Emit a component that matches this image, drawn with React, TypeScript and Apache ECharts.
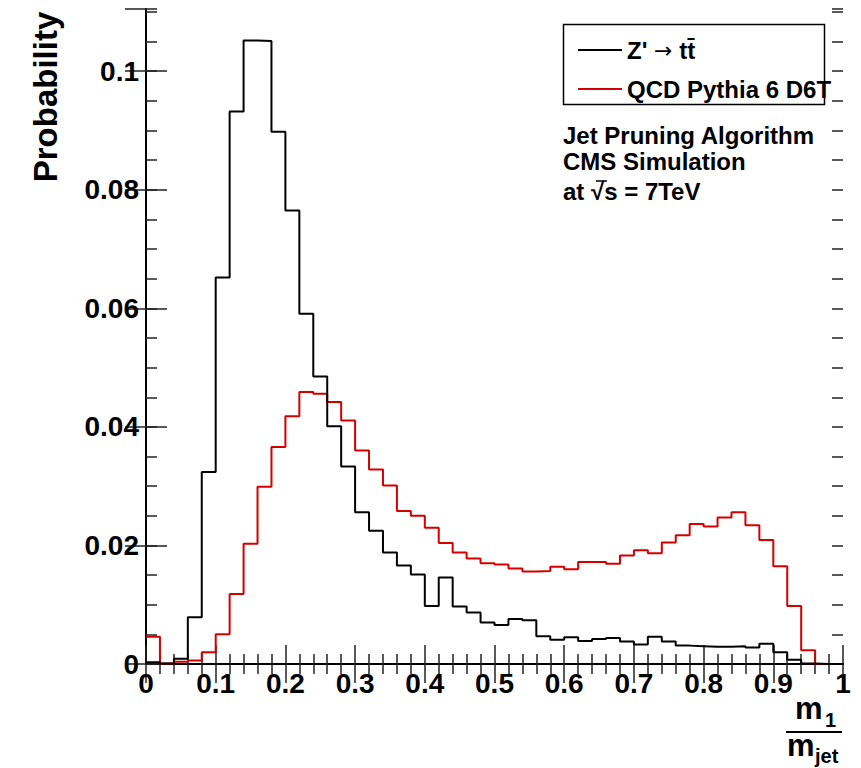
import React, { useEffect, useRef } from "react";
import * as echarts from "echarts";

// Bin edges of the histogram (0.02 wide bins)
const binEdges = [
  0, 0.02, 0.04, 0.06, 0.08, 0.1, 0.12, 0.14, 0.16, 0.18,
  0.2, 0.22, 0.24, 0.26, 0.28, 0.3, 0.32, 0.34, 0.36, 0.38,
  0.4, 0.42, 0.44, 0.46, 0.48, 0.5, 0.52, 0.54, 0.56, 0.58,
  0.6, 0.62, 0.64, 0.66, 0.68, 0.7, 0.72, 0.74, 0.76, 0.78,
  0.8, 0.82, 0.84, 0.86, 0.88, 0.9, 0.92, 0.94, 0.96, 0.98, 1.0,
];

// Z' -> ttbar (black)
const zprimeValues = [
  0.0003, 0.0001, 0.0009, 0.0079, 0.0324, 0.0652, 0.0932, 0.1052, 0.1051, 0.0898,
  0.0765, 0.0591, 0.0485, 0.0401, 0.0333, 0.0256, 0.0225, 0.0188, 0.0166, 0.0151,
  0.0098, 0.0146, 0.0097, 0.0087, 0.0070, 0.0066, 0.0076, 0.0074, 0.0047, 0.0041,
  0.0045, 0.0039, 0.0042, 0.0044, 0.0038, 0.0033, 0.0046, 0.0038, 0.0031, 0.0030,
  0.0029, 0.0029, 0.0030, 0.0028, 0.0034, 0.0020, 0.0007, 0.0001, 0, 0,
];

// QCD Pythia 6 D6T (red)
const qcdValues = [
  0.0046, 0.0001, 0.0004, 0.0006, 0.0020, 0.0050, 0.0118, 0.0203, 0.0299, 0.0366,
  0.0418, 0.0459, 0.0456, 0.0442, 0.0411, 0.0360, 0.0328, 0.0301, 0.0258, 0.0250,
  0.0230, 0.0204, 0.0188, 0.0178, 0.0170, 0.0168, 0.0161, 0.0156, 0.0157, 0.0164,
  0.0160, 0.0172, 0.0172, 0.0169, 0.0183, 0.0192, 0.0187, 0.0205, 0.0217, 0.0236,
  0.0232, 0.0247, 0.0256, 0.0234, 0.0209, 0.0165, 0.0098, 0.0023, 0, 0,
];

const seriesNames = ["Z' \u2192 tt\u0304", "QCD Pythia 6 D6T"];
const infoLines = ["Jet Pruning Algorithm", "CMS Simulation", "at \u221As = 7TeV"];

const FONT = "'Liberation Sans', Arial, Helvetica, sans-serif";

function toSteps(values: number[]) {
  const pts: number[][] = values.map((v, i) => [binEdges[i], v]);
  pts.push([binEdges[values.length], values[values.length - 1]]);
  return pts;
}

export default function App() {
  const ref = useRef<HTMLDivElement>(null);

  useEffect(() => {
    if (!ref.current) return;
    const chart = echarts.init(ref.current, undefined, { renderer: "svg" });

    const axisLine = { show: true, lineStyle: { color: "#000", width: 2 } };
    const labelStyle = { fontFamily: FONT, fontWeight: "bold" as const, fontSize: 28, color: "#000" };

    const xBase = (pos: "bottom" | "top", labels: boolean) => ({
      type: "value",
      position: pos,
      min: 0,
      max: 1,
      interval: 0.1,
      axisLine,
      axisTick: { show: true, inside: true, length: 19, lineStyle: { color: "#222", width: 1.5 } },
      minorTick: { show: true, splitNumber: 5, length: 10, lineStyle: { color: "#222", width: 1.5 } },
      splitLine: { show: false },
      minorSplitLine: { show: false },
      axisLabel: labels
        ? {
            show: true,
            margin: 5,
            ...labelStyle,
            formatter: (v: number) => String(+v.toFixed(2)),
          }
        : { show: false },
    });

    const yMajor = (pos: "left" | "right", labels: boolean) => ({
      type: "value",
      position: pos,
      min: 0,
      max: 0.1105,
      interval: 0.02,
      axisLine,
      axisTick: { show: true, inside: true, length: 21, lineStyle: { color: "#222", width: 1.5 } },
      splitLine: { show: false },
      axisLabel: labels
        ? {
            show: true,
            margin: 7,
            showMaxLabel: false,
            ...labelStyle,
            formatter: (v: number) => {
              const k = v / 0.02;
              if (Math.abs(k - Math.round(k)) > 1e-6) return "";
              return String(+v.toFixed(3));
            },
          }
        : { show: false },
    });

    const yMinor = (pos: "left" | "right") => ({
      type: "value",
      position: pos,
      min: 0,
      max: 0.1105,
      interval: 0.005,
      axisLine: { show: false },
      axisTick: { show: true, inside: true, length: 11, lineStyle: { color: "#222", width: 1.5 } },
      splitLine: { show: false },
      axisLabel: { show: false },
    });

    const option: any = {
      animation: false,
      backgroundColor: "#fff",
      grid: { left: 146, top: 9, width: 697, height: 655, containLabel: false },
      xAxis: [xBase("bottom", true), xBase("top", false)],
      yAxis: [yMajor("left", true), yMajor("right", false), yMinor("left"), yMinor("right")],
      legend: {
        left: 573,
        top: 33,
        orient: "vertical",
        itemWidth: 44,
        itemHeight: 2,
        itemGap: 15,
        icon: "rect",
        selectedMode: false,
        formatter: (name: string) =>
          name.indexOf("\u2192") >= 0 ? name.replace("\u2192", "{arr|\u2192}") : name,
        textStyle: {
          fontFamily: FONT,
          fontWeight: "bold",
          fontSize: 24,
          color: "#000",
          rich: {
            arr: { fontFamily: "'DejaVu Sans', sans-serif", fontSize: 22, fontWeight: "normal", color: "#000" },
          },
        },
        data: seriesNames,
      },
      series: [
        {
          name: seriesNames[0],
          type: "line",
          step: "end",
          xAxisIndex: 0,
          yAxisIndex: 0,
          showSymbol: false,
          color: "#000",
          lineStyle: { color: "#000", width: 2 },
          data: toSteps(zprimeValues),
          z: 3,
        },
        {
          name: seriesNames[1],
          type: "line",
          step: "end",
          xAxisIndex: 0,
          yAxisIndex: 0,
          showSymbol: false,
          color: "#d40000",
          lineStyle: { color: "#d40000", width: 2 },
          data: toSteps(qcdValues),
          z: 2,
        },
      ],
      graphic: [
        {
          type: "rect",
          shape: { x: 563.5, y: 24.5, width: 261, height: 80 },
          style: { fill: "none", stroke: "#000", lineWidth: 1.5 },
          z: 10,
        },
        ...infoLines.map((t, i) => ({
          type: "text",
          x: 563,
          y: [135, 161, 191][i],
          style: {
            text: t,
            fontFamily: FONT,
            fontWeight: "bold",
            fontSize: 24,
            fill: "#000",
            verticalAlign: "middle",
            align: "left",
          },
          z: 10,
        })),
        {
          type: "line",
          shape: { x1: 596, y1: 181, x2: 607, y2: 181 },
          style: { stroke: "#000", lineWidth: 1.5 },
          z: 10,
        },
        {
          type: "text",
          x: 45,
          y: 97,
          rotation: Math.PI / 2,
          style: {
            text: "Probability",
            fontFamily: FONT,
            fontWeight: "bold",
            fontSize: 33,
            fill: "#000",
            align: "center",
            verticalAlign: "middle",
          },
          z: 10,
        },
        {
          type: "text",
          x: 795,
          y: 708,
          style: { text: "m", fontFamily: FONT, fontWeight: "bold", fontSize: 31, fill: "#000", verticalAlign: "middle" },
          z: 10,
        },
        {
          type: "text",
          x: 825,
          y: 720,
          style: { text: "1", fontFamily: FONT, fontWeight: "bold", fontSize: 20, fill: "#000", verticalAlign: "middle" },
          z: 10,
        },
        {
          type: "line",
          shape: { x1: 786, y1: 732, x2: 842, y2: 732 },
          style: { stroke: "#000", lineWidth: 2 },
          z: 10,
        },
        {
          type: "text",
          x: 787,
          y: 745,
          style: { text: "m", fontFamily: FONT, fontWeight: "bold", fontSize: 31, fill: "#000", verticalAlign: "middle" },
          z: 10,
        },
        {
          type: "text",
          x: 815,
          y: 756,
          style: { text: "jet", fontFamily: FONT, fontWeight: "bold", fontSize: 20, fill: "#000", verticalAlign: "middle" },
          z: 10,
        },
      ],
    };

    chart.setOption(option);
    return () => chart.dispose();
  }, []);

  return (
    <div
      ref={ref}
      style={{ position: "absolute", left: 0, top: 0, width: 861, height: 768, background: "#fff" }}
    />
  );
}
